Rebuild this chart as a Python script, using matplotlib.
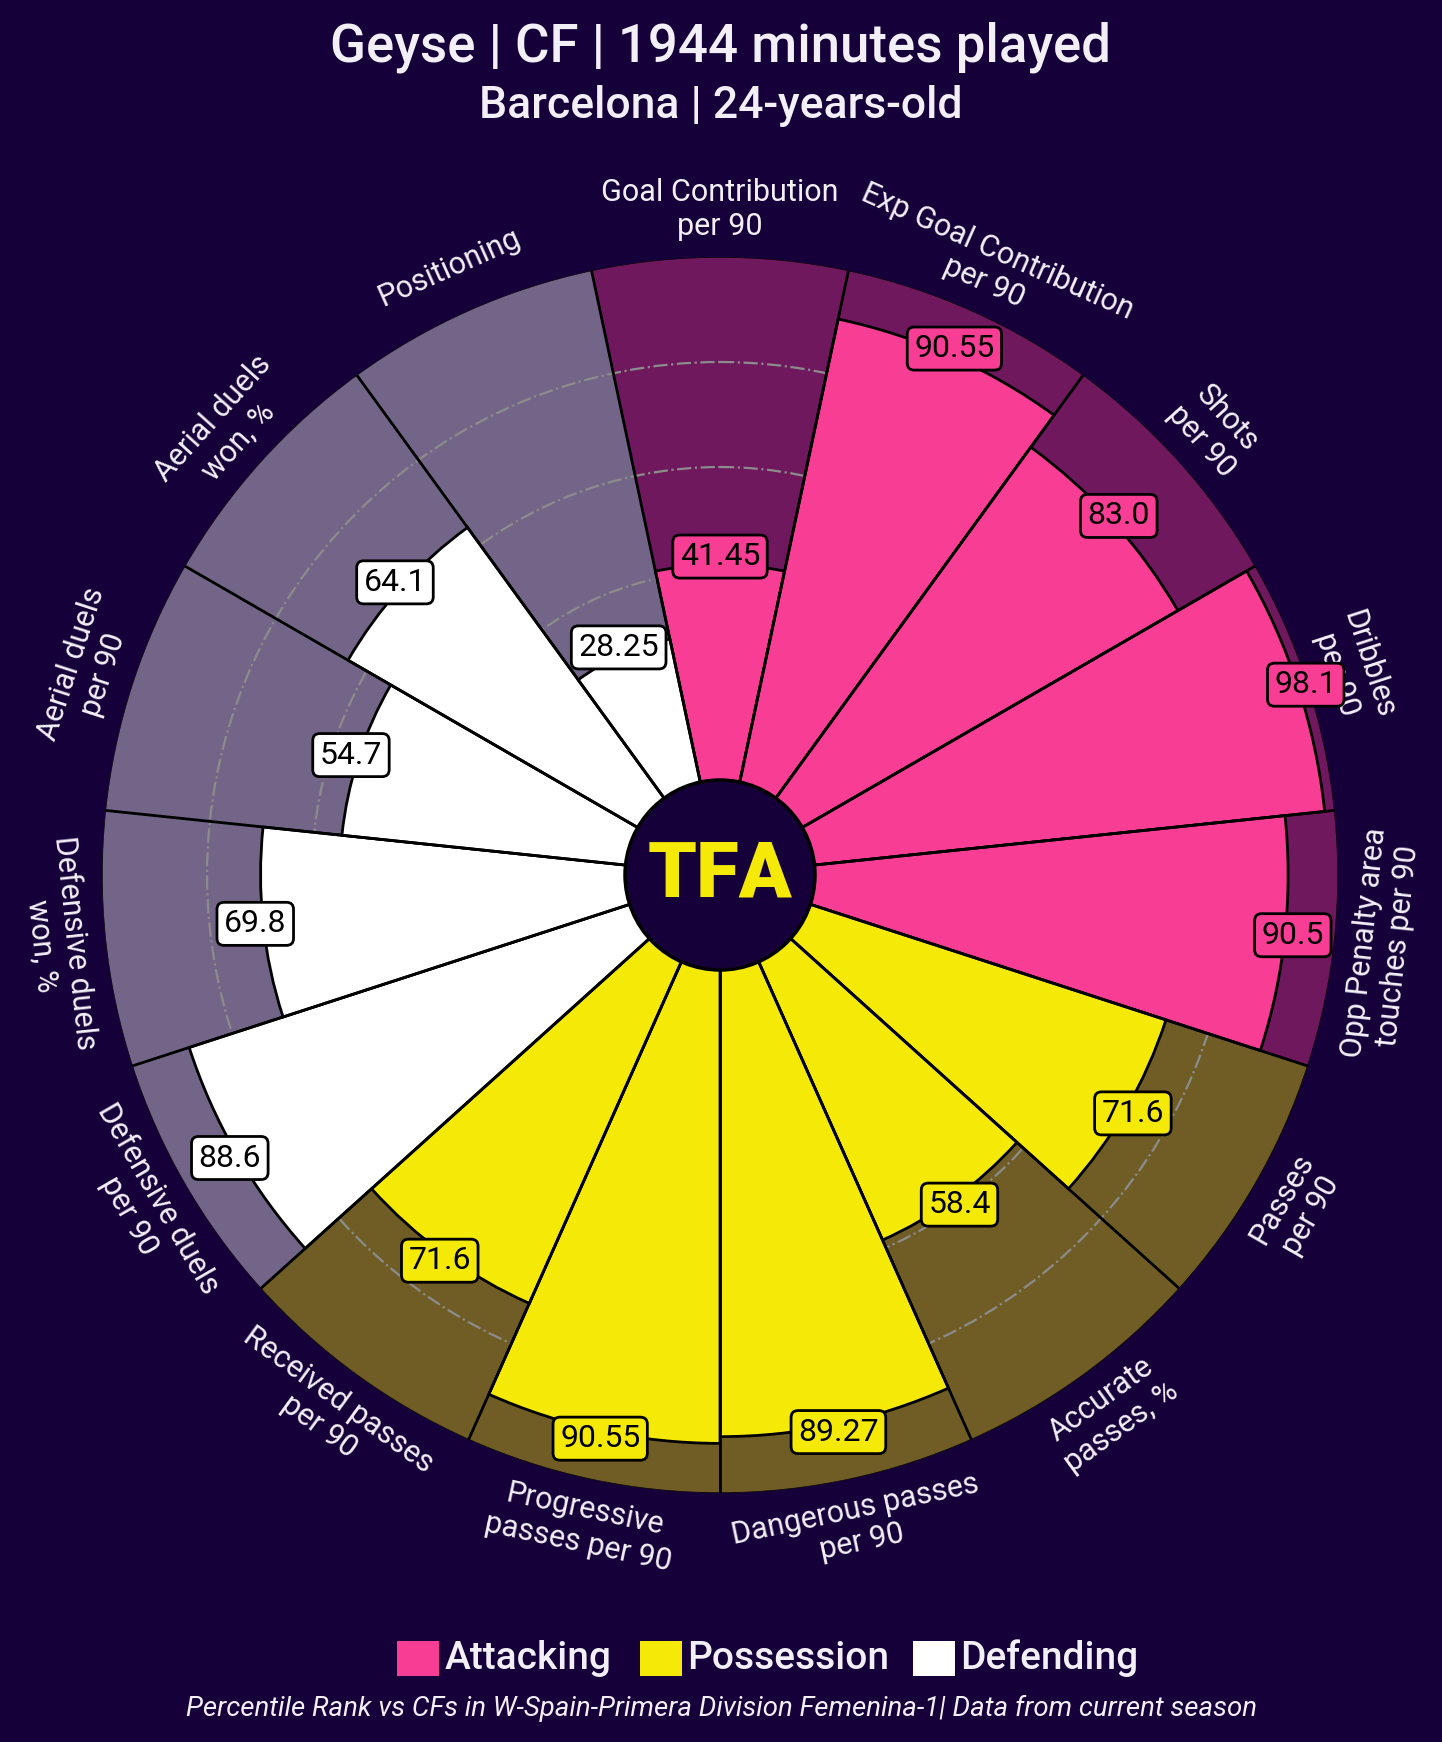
import matplotlib
matplotlib.use("Agg")
import matplotlib.pyplot as plt
import numpy as np
from matplotlib.colors import to_rgba
from matplotlib.patches import Circle, Rectangle

plt.rcParams['font.family'] = ['Roboto', 'DejaVu Sans']

# --- data ---
params = ["Goal Contribution\nper 90", "Exp Goal Contribution\nper 90", "Shots\nper 90",
          "Dribbles\nper 90", "Opp Penalty area\ntouches per 90", "Passes\nper 90",
          "Accurate\npasses, %", "Dangerous passes\nper 90", "Progressive\npasses per 90",
          "Received passes\nper 90", "Defensive duels\nper 90", "Defensive duels\nwon, %",
          "Aerial duels\nper 90", "Aerial duels\nwon, %", "Positioning"]
values = [41.45, 90.55, 83.0, 98.1, 90.5, 71.6, 58.4, 89.27, 90.55, 71.6,
          88.6, 69.8, 54.7, 64.1, 28.25]
groups = ["Attacking"] * 5 + ["Possession"] * 5 + ["Defending"] * 5
group_names = ["Attacking", "Possession", "Defending"]

bg = "#16003a"
group_colors = {"Attacking": "#f73e94", "Possession": "#f5e907", "Defending": "#ffffff"}
text_col = "#f2eff6"

fig = plt.figure(figsize=(14.42, 17.42), dpi=100, facecolor=bg)
ax = fig.add_axes([102 / 1442, 249 / 1742, 1236 / 1442, 1236 / 1742], projection='polar')
ax.set_facecolor(bg)
ax.set_theta_zero_location("N")
ax.set_theta_direction(-1)
ax.set_ylim(0, 100)
ax.set_rorigin(-17.7)

n = len(params)
width = 2 * np.pi / n
theta = np.arange(n) * width
cols = [group_colors[g] for g in groups]

# background (compare) slices
ax.bar(theta, [100] * n, width=width, bottom=0,
       color=[to_rgba(c, 0.4) for c in cols], edgecolor="black", lw=1, zorder=1)
# value slices
ax.bar(theta, values, width=width, bottom=0, color=cols,
       edgecolor="black", lw=2, zorder=2)
# straight lines between slices
ax.vlines(theta + width / 2, 0, 100, color="black", lw=2, zorder=3)

# grid circles
ax.set_axisbelow('line')
ax.set_rticks([20, 40, 60, 80])
ax.set_yticklabels([])
ax.yaxis.grid(True, color="#8c8c8c", ls="-.", lw=1.6)
ax.set_xticks([])
ax.xaxis.grid(False)
ax.spines['polar'].set_visible(False)

# param labels and value boxes
for t, p, v, c in zip(theta, params, values, cols):
    deg = np.degrees(t)
    if 90 < deg <= 270:
        rot = 180 - deg
    else:
        rot = -deg
    ax.text(t, 109, p, rotation=rot, ha="center", va="center", fontsize=22,
            color=text_col, clip_on=False, zorder=4)
    ax.text(t, v + 1.5, str(v), ha="center", va="center", fontsize=23, color="black",
            zorder=4, bbox=dict(boxstyle="round,pad=0.22", facecolor=c,
                                edgecolor="black", lw=2))

# center circle with logo
ax.add_patch(Circle((0.5, 0.5), 95 / 1236, transform=ax.transAxes, facecolor=bg,
                    edgecolor="black", lw=2.5, zorder=5, clip_on=False))
ax.text(0.5, 0.5, "TFA", transform=ax.transAxes, ha="center", va="center",
        fontsize=56, fontweight="black", color="#f5e907", zorder=6)

# titles
fig.text(0.5, 0.9728, "Geyse | CF | 1944 minutes played", ha="center", va="center",
         fontsize=38, fontweight="medium", color=text_col)
fig.text(0.5, 0.9390, "Barcelona | 24-years-old", ha="center", va="center",
         fontsize=32, fontweight="medium", color=text_col)

# legend
sq_x = [0.2753, 0.4438, 0.6331]
for x, g in zip(sq_x, group_names):
    fig.patches.append(Rectangle((x, 0.0381), 0.0291, 0.0201, transform=fig.transFigure,
                                 facecolor=group_colors[g], edgecolor="none"))
    fig.text(x + 0.0330, 0.0482, g, ha="left", va="center", fontsize=28,
             fontweight="medium", color=text_col)

fig.text(0.5, 0.0190, "Percentile Rank vs CFs in W-Spain-Primera Division Femenina-1| Data from current season",
         ha="center", va="center", fontsize=19.9, style="italic", color=text_col)

fig.savefig("out.png", dpi=100, facecolor=bg)
